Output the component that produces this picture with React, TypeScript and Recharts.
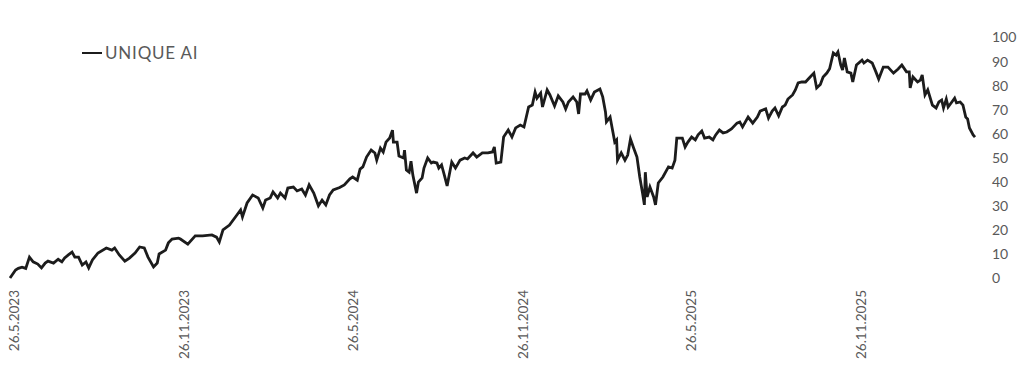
import React from 'react';
import { LineChart, Line, XAxis, YAxis } from 'recharts';

// days counted from 26.5.2023
const dayOffsets = [
  0, 6, 9, 13, 17, 21, 25, 30, 34, 38, 41, 47, 52, 56, 59, 63, 67, 70, 74, 78,
  82, 85, 89, 95, 104, 110, 113, 118, 124, 129, 135, 140, 145, 149, 155, 159, 161, 168, 171, 175,
  182, 184, 192, 200, 208, 218, 223, 226, 230, 237, 245, 249, 251, 256, 262, 268, 273, 276, 281, 284,
  289, 292, 297, 300, 306, 310, 315, 319, 323, 328, 333, 337, 341, 345, 349, 356, 361, 367, 370, 375,
  378, 381, 385, 390, 394, 396, 400, 403, 406, 410, 413, 414, 418, 420, 425, 426, 428, 431, 433, 435,
  439, 441, 445, 447, 451, 455, 457, 461, 463, 466, 469, 472, 477, 481, 486, 491, 494, 500, 504, 510,
  516, 521, 523, 525, 530, 533, 538, 542, 546, 551, 555, 560, 564, 567, 569, 573, 575, 580, 583, 588,
  592, 597, 600, 603, 608, 612, 614, 616, 621, 623, 627, 631, 637, 640, 643, 644, 648, 651, 653, 655,
  656, 660, 664, 667, 670, 673, 677, 680, 683, 685, 686, 688, 691, 695, 697, 700, 705, 711, 715, 718,
  720, 726, 729, 732, 736, 740, 743, 747, 750, 755, 759, 762, 766, 770, 774, 779, 785, 788, 791, 797,
  802, 807, 810, 816, 819, 823, 826, 830, 834, 837, 840, 845, 848, 851, 855, 859, 864, 868, 871, 875,
  878, 882, 885, 889, 892, 894, 897, 899, 901, 904, 908, 910, 914, 920, 922, 926, 931, 935, 938, 943,
  948, 954, 959, 963, 968, 971, 972, 975, 980, 983, 985, 988, 991, 996, 1000, 1003, 1006, 1008, 1011, 1013,
  1017, 1020, 1022, 1026, 1029, 1032, 1034, 1036, 1040, 1042,
];

const uniqueAi = [
  0, 3.3, 4, 4.5, 4, 8.7, 6.7, 5.8, 4.2, 6.2, 7, 6.2, 7.8, 6.7, 8.3, 9.6, 10.8, 8.7, 8.7, 5.4,
  6.7, 4.2, 7.5, 10.4, 12.5, 11.6, 12.5, 9.6, 7, 8.3, 10.4, 12.9, 12.5, 8.7, 4.6, 6.2, 10, 11.6, 14.6, 16.2,
  16.6, 16.2, 14.1, 17.5, 17.5, 17.9, 17, 15, 20, 22, 26.2, 28.3, 25.4, 31.2, 34.5, 33.3, 29.1, 32.4, 33.3, 35.8,
  33.3, 35.3, 33.3, 37.4, 37.8, 36.2, 37, 34.5, 38.7, 35.3, 30, 32.4, 30.4, 34.5, 36.6, 37.6, 38.7, 41.2, 42, 40.7,
  45.3, 46.2, 50.3, 53.2, 52, 49, 54, 52.4, 56.5, 58.2, 61.5, 56.5, 56.5, 50.7, 49.9, 53.2, 44.9, 44, 48.6, 42.8,
  35.3, 39.9, 41.6, 45.7, 49.9, 47.8, 48.2, 47.8, 45.7, 47, 42.8, 38.3, 48.2, 45.7, 49, 49.9, 49.5, 52, 50.3, 52,
  52, 52.4, 54.5, 47.8, 48.2, 58.6, 61.5, 58.6, 62.4, 63.6, 62.8, 71.1, 71.9, 77.3, 74.8, 76.9, 71.1, 78.2, 76.1, 71.5,
  75.7, 73.2, 70.3, 73.2, 75.3, 73.2, 68.2, 76.5, 76.5, 77.8, 74, 77.3, 78.6, 75.3, 69, 64.9, 66.9, 60.7, 56.5, 57.4,
  49, 52, 49, 51.1, 57.8, 54.5, 50.3, 42, 35.3, 30.4, 44, 33.7, 37.8, 33.7, 30.4, 39.5, 42, 46.2, 45.7, 49,
  58.2, 58.2, 54.5, 56.5, 58.6, 57.4, 59.5, 61.1, 58.2, 58.6, 57.4, 59.5, 61.5, 60.3, 60.7, 62, 64.4, 64.9, 62.8, 66.9,
  64.4, 66.9, 69.4, 70.3, 66.5, 69.4, 70.7, 67.4, 71.1, 71.9, 74.4, 76.1, 78.2, 81.1, 81.5, 81.5, 83.6, 85.2, 79, 80.5,
  83.6, 85.2, 87, 93.6, 92.7, 94, 88.6, 86.5, 91.5, 85.7, 85.2, 81.5, 88.6, 90.6, 89.4, 90.6, 89.4, 85.7, 82.7, 87.7,
  87.7, 85.2, 86.9, 88.6, 85.7, 85.7, 79, 83.6, 81.5, 82.3, 84.4, 76.1, 78.2, 71.9, 70.7, 73.2, 74, 70.7, 74.4, 71.1,
  73.2, 74.8, 72.8, 73.2, 71.9, 66.9, 66.1, 62.4, 59.5, 58.6,
];

const tickDays = [0, 184, 366, 550, 731, 915];
const tickLabels = ['26.5.2023', '26.11.2023', '26.5.2024', '26.11.2024', '26.5.2025', '26.11.2025'];
const yTicks = [0, 10, 20, 30, 40, 50, 60, 70, 80, 90, 100];

const seriesName = 'UNIQUE AI';
const FONT = 'Lato, "Open Sans", sans-serif';

const data = dayOffsets.map((d, i) => ({ day: d, value: uniqueAi[i] }));

const DateTick = (props: any) => {
  const { x, y, payload } = props;
  const idx = tickDays.indexOf(payload.value);
  return (
    <text
      x={x}
      y={y}
      dy="0.65em"
      transform={`rotate(-90 ${x} ${y})`}
      textAnchor="end"
      fill="#595959"
      fontSize={13.5}
      fontFamily={FONT}
    >
      {idx >= 0 ? tickLabels[idx] : ''}
    </text>
  );
};

export default function App() {
  return (
    <div style={{ position: 'absolute', left: 0, top: 0, width: 1024, height: 376, background: '#fff' }}>
      <LineChart
        width={1024}
        height={376}
        data={data}
        margin={{ top: 37.5, right: 0, bottom: 18, left: 10 }}
      >
        <XAxis
          dataKey="day"
          type="number"
          domain={[0, 1042]}
          ticks={tickDays}
          axisLine={false}
          tickLine={false}
          tickMargin={6}
          height={80}
          interval={0}
          tick={<DateTick />}
        />
        <YAxis
          orientation="right"
          domain={[0, 100]}
          ticks={yTicks}
          axisLine={false}
          tickLine={false}
          tickMargin={11}
          width={49}
          interval={0}
          tick={{ fill: '#595959', fontSize: 14, fontFamily: FONT }}
        />
        <Line
          type="linear"
          dataKey="value"
          name={seriesName}
          stroke="#1c1c1c"
          strokeWidth={2.8}
          dot={false}
          isAnimationActive={false}
        />
      </LineChart>
      <div
        style={{
          position: 'absolute',
          left: 82,
          top: 42,
          display: 'flex',
          alignItems: 'center',
          fontFamily: FONT,
          fontSize: 17,
          letterSpacing: 0.8,
          color: '#595959',
        }}
      >
        <span style={{ display: 'inline-block', width: 20, height: 2, background: '#1c1c1c', marginRight: 3 }} />
        <span>{seriesName}</span>
      </div>
    </div>
  );
}
